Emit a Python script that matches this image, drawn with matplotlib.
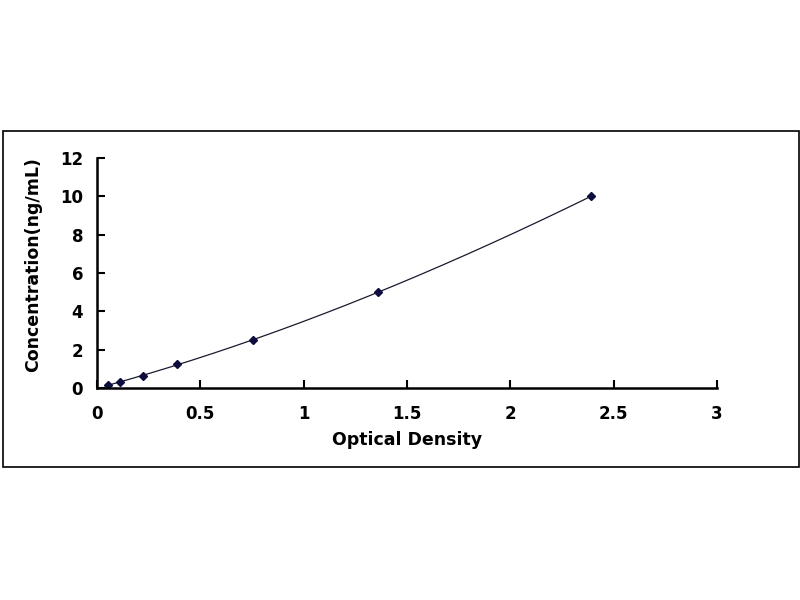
import numpy as np
import matplotlib
matplotlib.use("Agg")
import matplotlib.pyplot as plt
from matplotlib.patches import Rectangle

od = [0.053, 0.111, 0.223, 0.387, 0.755, 1.36, 2.39]
conc = [0.156, 0.312, 0.625, 1.25, 2.5, 5.0, 10.0]
xticks = [0, 0.5, 1, 1.5, 2, 2.5, 3]
xticklabels = ["0", "0.5", "1", "1.5", "2", "2.5", "3"]
yticks = [0, 2, 4, 6, 8, 10, 12]

plt.rcParams['font.family'] = ['DejaVu Sans']

fig = plt.figure(figsize=(8, 6), dpi=100)
fig.patches.append(Rectangle((3/800, 1-467/600), 796/800, 336/600,
                             transform=fig.transFigure, fill=False,
                             edgecolor='black', linewidth=1.2))
ax = fig.add_axes([97/800, 1-388/600, 620/800, 230/600])

coef = np.polyfit(od, conc, 3)
xs = np.linspace(min(od), max(od), 300)
ax.plot(xs, np.polyval(coef, xs), color='#1a1a2e', linewidth=0.9)
ax.plot(od, conc, linestyle='none', marker='D', markersize=4.5,
        color='#0d0d40')

ax.set_xlim(0, 3)
ax.set_ylim(0, 12)
ax.set_xticks(xticks)
ax.set_xticklabels(xticklabels)
ax.set_yticks(yticks)
for s in ['top', 'right']:
    ax.spines[s].set_visible(False)
for s in ['left', 'bottom']:
    ax.spines[s].set_linewidth(1.8)
ax.tick_params(direction='in', length=6, width=1.5, labelsize=12)
ax.tick_params(axis='x', pad=12)
ax.tick_params(axis='y', pad=10)
for lab in ax.get_xticklabels() + ax.get_yticklabels():
    lab.set_fontweight('bold')
ax.set_xlabel("Optical Density", fontsize=12.5, fontweight='bold', labelpad=6)
ax.set_ylabel("Concentration(ng/mL)", fontsize=12.5, fontweight='bold', labelpad=12)
ax.yaxis.set_label_coords(-0.088, 0.535)

fig.savefig("out.png", dpi=100)
